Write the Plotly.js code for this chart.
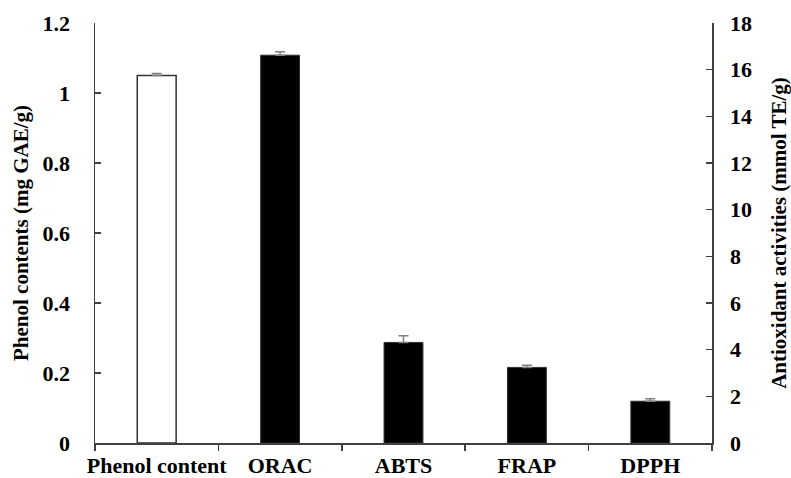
<!DOCTYPE html>
<html>
<head>
<meta charset="utf-8">
<script src="https://cdn.plot.ly/plotly-3.0.1.min.js"></script>
<style>html,body{margin:0;padding:0;background:#fff;}#chart{width:791px;height:478px;}</style>
</head>
<body>
<div id="chart"></div>
<script>
const categories = ["Phenol content", "ORAC", "ABTS", "FRAP", "DPPH"];
const phenolCategory = ["Phenol content"];
const phenolValues = [1.05];
const phenolErrors = [0.006];
const antioxCategories = ["ORAC", "ABTS", "FRAP", "DPPH"];
const antioxValues = [16.62, 4.31, 3.24, 1.79];
const antioxErrors = [0.15, 0.29, 0.09, 0.11];
const leftTicks = [0, 0.2, 0.4, 0.6, 0.8, 1, 1.2];
const rightTicks = [0, 2, 4, 6, 8, 10, 12, 14, 16, 18];

const fam = "Liberation Serif";
const bold = {family: fam, size: 22, color: "#000", weight: "bold"};
const titleFont = {family: fam, size: 21, color: "#000", weight: "bold"};
const axisColor = "#404040";

const traces = [
  {
    type: "bar", x: phenolCategory, y: phenolValues, yaxis: "y", width: 0.315,
    marker: {color: "#ffffff", line: {color: "#303030", width: 1.5}},
    error_y: {type: "data", symmetric: false, array: phenolErrors, arrayminus: phenolErrors.map(() => 0), color: "#808080", thickness: 1.5, width: 5},
    showlegend: false, hoverinfo: "none"
  },
  {
    type: "bar", x: antioxCategories, y: antioxValues, yaxis: "y2", width: 0.315,
    marker: {color: "#000000", line: {color: "#303030", width: 1}},
    error_y: {type: "data", symmetric: false, array: antioxErrors, arrayminus: antioxErrors.map(() => 0), color: "#808080", thickness: 1.5, width: 5},
    showlegend: false, hoverinfo: "none"
  }
];

const layout = {
  width: 791, height: 478,
  margin: {l: 95, r: 79, t: 23, b: 35},
  paper_bgcolor: "#fff", plot_bgcolor: "#fff",
  barmode: "overlay",
  font: {family: fam, size: 22, color: "#000"},
  xaxis: {
    type: "category", categoryorder: "array", categoryarray: categories,
    showline: true, linecolor: axisColor, linewidth: 1.5,
    ticks: "outside", tickson: "boundaries", ticklen: 6, tickcolor: axisColor, tickwidth: 1.5,
    tickangle: 0, ticklabelstandoff: 2,
    tickfont: bold,
    showgrid: false, zeroline: false, automargin: false
  },
  yaxis: {
    range: [0, 1.2], tickvals: leftTicks, ticktext: leftTicks.map(String),
    showline: true, linecolor: axisColor, linewidth: 1.5,
    ticks: "inside", ticklen: 6, tickcolor: axisColor, tickwidth: 1.5,
    ticklabelstandoff: 19,
    tickfont: bold,
    showgrid: false, zeroline: false, automargin: false,
    title: {text: "Phenol contents (mg GAE/g)", font: titleFont, standoff: 8}
  },
  yaxis2: {
    overlaying: "y", side: "right",
    range: [0, 18], tickvals: rightTicks, ticktext: rightTicks.map(String),
    showline: true, linecolor: axisColor, linewidth: 1.5,
    ticks: "inside", ticklen: 6, tickcolor: axisColor, tickwidth: 1.5,
    ticklabelstandoff: 12,
    tickfont: bold,
    showgrid: false, zeroline: false, automargin: false,
    title: {text: "Antioxidant activities (mmol TE/g)", font: titleFont, standoff: 20}
  }
};

Plotly.newPlot("chart", traces, layout, {displayModeBar: false, staticPlot: true});
</script>
</body>
</html>
